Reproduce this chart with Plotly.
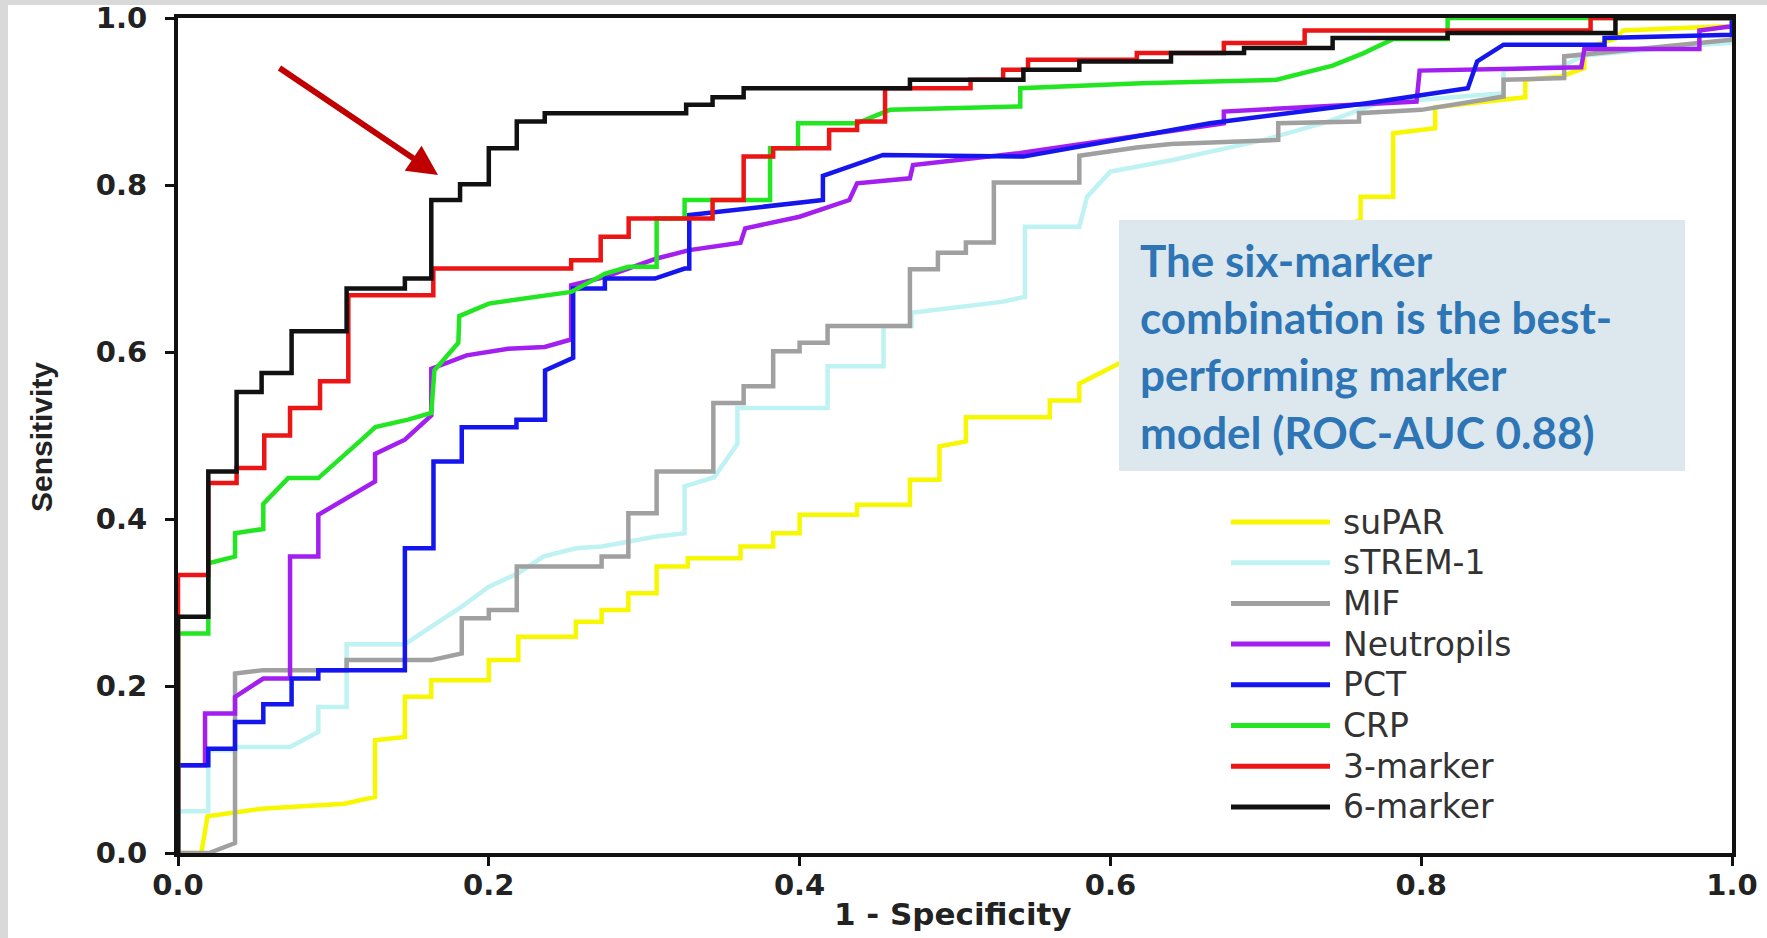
import plotly.graph_objects as go

# ---------------- data (ROC vertices) ----------------
series_names = ["suPAR", "sTREM-1", "MIF", "Neutropils", "PCT", "CRP", "3-marker", "6-marker"]
series_colors = ["#f7f700", "#bff2f2", "#a0a0a0", "#a31ff0", "#1515ee", "#22e622", "#ec1515", "#111111"]

supar_fpr = [0, 0.015, 0.019, 0.0538, 0.107, 0.1268, 0.1268, 0.146, 0.146, 0.163, 0.163, 0.200, 0.200, 0.219, 0.219,
             0.256, 0.256, 0.2726, 0.2726, 0.2898, 0.2898, 0.308, 0.308, 0.328, 0.328, 0.362, 0.362, 0.383, 0.383,
             0.400, 0.400, 0.437, 0.437, 0.471, 0.471, 0.490, 0.490, 0.507, 0.507, 0.561, 0.561, 0.580, 0.580, 0.601,
             0.62, 0.64, 0.66, 0.68, 0.70, 0.73, 0.761, 0.761, 0.782, 0.782, 0.809, 0.809, 0.842, 0.867, 0.867, 0.89,
             0.905, 0.905, 0.925, 0.93, 0.979, 1.0, 1.0]
supar_tpr = [0, 0.0, 0.044, 0.053, 0.059, 0.067, 0.135, 0.139, 0.187, 0.187, 0.207, 0.207, 0.231, 0.231, 0.259,
             0.259, 0.277, 0.277, 0.291, 0.291, 0.311, 0.311, 0.343, 0.343, 0.353, 0.353, 0.367, 0.367, 0.383,
             0.383, 0.405, 0.405, 0.417, 0.417, 0.447, 0.447, 0.487, 0.493, 0.522, 0.522, 0.542, 0.542, 0.562, 0.582,
             0.60, 0.63, 0.66, 0.69, 0.71, 0.74, 0.758, 0.786, 0.786, 0.862, 0.868, 0.893, 0.900, 0.905, 0.926, 0.930,
             0.940, 0.964, 0.975, 0.985, 0.989, 0.99, 1.0]

strem_fpr = [0, 0, 0.0195, 0.0195, 0.0367, 0.0367, 0.0721, 0.0903, 0.0903, 0.1085, 0.1085, 0.146, 0.163, 0.1826,
             0.200, 0.219, 0.235, 0.256, 0.2726, 0.308, 0.326, 0.326, 0.345, 0.36, 0.36, 0.418, 0.418, 0.454, 0.454,
             0.472, 0.472, 0.53, 0.545, 0.545, 0.58, 0.585, 0.60, 0.64, 0.699, 0.74, 0.772, 0.82, 0.853, 0.853, 0.89,
             0.905, 0.98, 1.0, 1.0]
strem_tpr = [0, 0.05, 0.05, 0.123, 0.123, 0.127, 0.127, 0.145, 0.175, 0.175, 0.25, 0.25, 0.271, 0.295,
             0.319, 0.335, 0.355, 0.365, 0.367, 0.379, 0.383, 0.439, 0.45, 0.49, 0.533, 0.533, 0.583, 0.583, 0.631,
             0.631, 0.647, 0.66, 0.666, 0.75, 0.75, 0.786, 0.816, 0.83, 0.854, 0.876, 0.898, 0.905, 0.91, 0.938, 0.942,
             0.955, 0.968, 0.97, 1.0]

mif_fpr = [0, 0.02, 0.0367, 0.0367, 0.0549, 0.1085, 0.1085, 0.163, 0.1826, 0.1826, 0.200, 0.200, 0.218, 0.218,
           0.2726, 0.2726, 0.2898, 0.2898, 0.308, 0.308, 0.3445, 0.3445, 0.364, 0.364, 0.383, 0.383, 0.400, 0.400,
           0.418, 0.418, 0.471, 0.471, 0.489, 0.489, 0.507, 0.507, 0.525, 0.525, 0.580, 0.580, 0.617, 0.639, 0.708,
           0.708, 0.760, 0.760, 0.800, 0.853, 0.853, 0.892, 0.892, 0.979, 1.0, 1.0]
mif_tpr = [0, 0.0, 0.012, 0.215, 0.219, 0.219, 0.231, 0.231, 0.239, 0.281, 0.281, 0.291, 0.291, 0.343,
           0.343, 0.355, 0.355, 0.407, 0.407, 0.457, 0.457, 0.539, 0.539, 0.559, 0.559, 0.601, 0.601, 0.611,
           0.611, 0.631, 0.631, 0.699, 0.699, 0.719, 0.719, 0.731, 0.731, 0.803, 0.803, 0.835, 0.845, 0.849, 0.854,
           0.874, 0.876, 0.886, 0.890, 0.906, 0.926, 0.928, 0.954, 0.970, 0.974, 1.0]

neut_fpr = [0, 0, 0.0174, 0.0174, 0.0367, 0.0367, 0.0549, 0.0721, 0.0721, 0.0903, 0.0903, 0.1268, 0.1268, 0.146,
            0.163, 0.163, 0.1857, 0.2125, 0.236, 0.253, 0.253, 0.275, 0.308, 0.329, 0.362, 0.365, 0.400, 0.432,
            0.437, 0.471, 0.473, 0.541, 0.673, 0.673, 0.797, 0.799, 0.903, 0.905, 0.979, 0.979, 1.0, 1.0]
neut_tpr = [0, 0.105, 0.105, 0.167, 0.167, 0.187, 0.209, 0.209, 0.355, 0.355, 0.405, 0.445, 0.478, 0.495,
            0.524, 0.580, 0.596, 0.604, 0.606, 0.615, 0.680, 0.690, 0.712, 0.722, 0.731, 0.748, 0.762, 0.782,
            0.802, 0.808, 0.824, 0.838, 0.874, 0.888, 0.900, 0.937, 0.941, 0.963, 0.963, 0.985, 0.99, 1.0]

pct_fpr = [0, 0, 0.0195, 0.0195, 0.0367, 0.0367, 0.0549, 0.0549, 0.0731, 0.0731, 0.0903, 0.0903, 0.146, 0.146,
           0.1644, 0.1644, 0.1826, 0.1826, 0.2178, 0.2178, 0.2362, 0.2362, 0.2543, 0.2543, 0.2747, 0.2747, 0.3069,
           0.326, 0.329, 0.329, 0.415, 0.415, 0.4537, 0.544, 0.664, 0.765, 0.830, 0.836, 0.853, 0.918, 0.918, 1.0, 1.0]
pct_tpr = [0, 0.105, 0.105, 0.125, 0.125, 0.157, 0.157, 0.178, 0.178, 0.209, 0.209, 0.219, 0.219, 0.365,
           0.365, 0.469, 0.469, 0.510, 0.510, 0.519, 0.519, 0.578, 0.593, 0.676, 0.676, 0.688, 0.688,
           0.700, 0.700, 0.764, 0.782, 0.811, 0.836, 0.834, 0.874, 0.898, 0.916, 0.948, 0.968, 0.968, 0.976, 0.98, 1.0]

crp_fpr = [0, 0, 0.0195, 0.0195, 0.0367, 0.0367, 0.0549, 0.0549, 0.0709, 0.0903, 0.1182, 0.127, 0.148, 0.163,
           0.165, 0.1804, 0.181, 0.200, 0.253, 0.275, 0.290, 0.308, 0.308, 0.326, 0.326, 0.381, 0.381, 0.399, 0.399,
           0.437, 0.458, 0.542, 0.542, 0.62, 0.707, 0.743, 0.763, 0.782, 0.817, 0.817, 1.0]
crp_tpr = [0, 0.263, 0.263, 0.347, 0.355, 0.383, 0.388, 0.418, 0.449, 0.449, 0.495, 0.510, 0.519, 0.527,
           0.578, 0.611, 0.643, 0.658, 0.672, 0.694, 0.702, 0.702, 0.760, 0.760, 0.782, 0.782, 0.844, 0.844, 0.874,
           0.874, 0.890, 0.894, 0.916, 0.922, 0.926, 0.943, 0.958, 0.975, 0.975, 1.0, 1.0]

m3_fpr = [0, 0, 0.0195, 0.0195, 0.0377, 0.0377, 0.0555, 0.0555, 0.0721, 0.0721, 0.0914, 0.0914, 0.1096, 0.1096,
          0.1643, 0.1643, 0.253, 0.253, 0.272, 0.272, 0.290, 0.290, 0.344, 0.344, 0.364, 0.364, 0.383, 0.383,
          0.419, 0.419, 0.437, 0.437, 0.455, 0.455, 0.51, 0.51, 0.531, 0.531, 0.547, 0.547, 0.617, 0.617, 0.673,
          0.673, 0.725, 0.725, 0.909, 0.909, 1.0]
m3_tpr = [0, 0.333, 0.333, 0.443, 0.443, 0.461, 0.461, 0.50, 0.50, 0.533, 0.533, 0.565, 0.565, 0.668,
          0.668, 0.700, 0.700, 0.710, 0.710, 0.738, 0.738, 0.760, 0.760, 0.782, 0.782, 0.834, 0.834, 0.844,
          0.844, 0.866, 0.866, 0.876, 0.876, 0.916, 0.916, 0.926, 0.926, 0.938, 0.938, 0.950, 0.950, 0.958, 0.958,
          0.970, 0.970, 0.985, 0.985, 1.0, 1.0]

m6_fpr = [0, 0, 0.0195, 0.0195, 0.0377, 0.0377, 0.0538, 0.0538, 0.0731, 0.0731, 0.1085, 0.1085, 0.146, 0.146,
          0.163, 0.163, 0.1815, 0.1815, 0.200, 0.200, 0.218, 0.218, 0.236, 0.236, 0.327, 0.327, 0.344, 0.344,
          0.364, 0.364, 0.471, 0.471, 0.544, 0.544, 0.580, 0.580, 0.639, 0.639, 0.686, 0.686, 0.743, 0.743,
          0.817, 0.817, 0.925, 0.925, 1.0]
m6_tpr = [0, 0.283, 0.283, 0.457, 0.457, 0.552, 0.552, 0.575, 0.575, 0.625, 0.625, 0.676, 0.676, 0.688,
          0.688, 0.782, 0.782, 0.801, 0.801, 0.844, 0.844, 0.876, 0.876, 0.886, 0.886, 0.896, 0.896, 0.905,
          0.905, 0.916, 0.916, 0.926, 0.926, 0.938, 0.938, 0.948, 0.948, 0.958, 0.958, 0.964, 0.964, 0.976,
          0.976, 0.982, 0.982, 1.0, 1.0]

series_fpr = [supar_fpr, strem_fpr, mif_fpr, neut_fpr, pct_fpr, crp_fpr, m3_fpr, m6_fpr]
series_tpr = [supar_tpr, strem_tpr, mif_tpr, neut_tpr, pct_tpr, crp_tpr, m3_tpr, m6_tpr]

tick_values = [0.0, 0.2, 0.4, 0.6, 0.8, 1.0]
x_title = "1 - Specificity"
y_title = "Sensitivity"
callout_lines = ["The six-marker", "combination is the best-", "performing marker", "model (ROC-AUC 0.88)"]

# ---------------- figure ----------------
W, H = 1767, 938
ML, MR, MT, MB = 178, 35, 18, 85
PW, PH = W - ML - MR, H - MT - MB


def px_x(X):
    return (X - ML) / PW


def px_y(Y):
    return (H - MB - Y) / PH


fig = go.Figure()
for name, color, fx, ty in zip(series_names, series_colors, series_fpr, series_tpr):
    assert len(fx) == len(ty), name
    fig.add_trace(go.Scatter(x=fx, y=ty, mode="lines", name=name,
                             line=dict(color=color, width=4.5), showlegend=False, hoverinfo="skip"))

tick_font = dict(family="DejaVu Sans", size=29, color="#222222", weight="bold")
axis_common = dict(range=[0, 1], showline=True, linecolor="#111111", linewidth=4, mirror=True,
                   ticks="outside", ticklen=9, tickwidth=3, tickcolor="#111111", automargin=False,
                   tickvals=tick_values, tickformat=".1f", showgrid=False, zeroline=False,
                   tickfont=tick_font, fixedrange=True)

shapes = [
    # grey frame strips of the picture
    dict(type="rect", xref="paper", yref="paper", x0=px_x(0), x1=px_x(8), y0=px_y(H), y1=px_y(0),
         fillcolor="#d9d9d9", line=dict(width=0), layer="below"),
    dict(type="rect", xref="paper", yref="paper", x0=px_x(0), x1=px_x(W), y0=px_y(5), y1=px_y(0),
         fillcolor="#d9d9d9", line=dict(width=0), layer="below"),
    # callout box
    dict(type="rect", xref="paper", yref="paper", x0=px_x(1119), x1=px_x(1685), y0=px_y(471), y1=px_y(220),
         fillcolor="#dce8ee", line=dict(width=0), layer="above"),
]

annotations = [
    dict(xref="paper", yref="paper", x=px_x(953), y=px_y(914), text=x_title, showarrow=False,
         font=dict(family="DejaVu Sans", size=31, color="#222222", weight="bold"), xanchor="center", yanchor="middle"),
    dict(xref="paper", yref="paper", x=px_x(42), y=px_y(437), text=y_title, showarrow=False, textangle=-90,
         font=dict(family="Liberation Sans", size=30, color="#222222", weight="bold"), xanchor="center", yanchor="middle"),
    dict(xref="paper", yref="paper", x=px_x(1138), y=px_y(346), text="<br>".join(callout_lines), showarrow=False,
         align="left", xanchor="left", yanchor="middle",
         font=dict(family="Lato, sans-serif", size=44, color="#2e75b6", weight="bold")),
    # red arrow
    dict(xref="paper", yref="paper", x=px_x(438), y=px_y(175), axref="pixel", ayref="pixel",
         ax=278 - 438, ay=67 - 175, text="", showarrow=True, arrowhead=2, arrowsize=1.0,
         arrowwidth=6, arrowcolor="#c00000", standoff=0),
]

# hand-built legend (long line samples as in the original)
legend_y0, legend_dy = 522, 40.7
for i, (name, color) in enumerate(zip(series_names, series_colors)):
    yy = px_y(legend_y0 + i * legend_dy)
    shapes.append(dict(type="line", xref="paper", yref="paper", x0=px_x(1231), x1=px_x(1330), y0=yy, y1=yy,
                       line=dict(color=color, width=5), layer="above"))
    annotations.append(dict(xref="paper", yref="paper", x=px_x(1341), y=yy, text=name, showarrow=False,
                            xanchor="left", yanchor="middle",
                            font=dict(family="DejaVu Sans", size=33, color="#333333")))

xaxis = dict(axis_common, ticklabelstandoff=-6)
yaxis = dict(axis_common, ticklabelstandoff=12)

fig.update_layout(
    width=W, height=H, margin=dict(l=ML, r=MR, t=MT, b=MB),
    paper_bgcolor="white", plot_bgcolor="white",
    xaxis=xaxis, yaxis=yaxis,
    shapes=shapes, annotations=annotations, showlegend=False,
)

fig.write_html("out.html", config={"displayModeBar": False},
               post_script="document.body.style.margin='0px';document.body.style.overflow='hidden';")
